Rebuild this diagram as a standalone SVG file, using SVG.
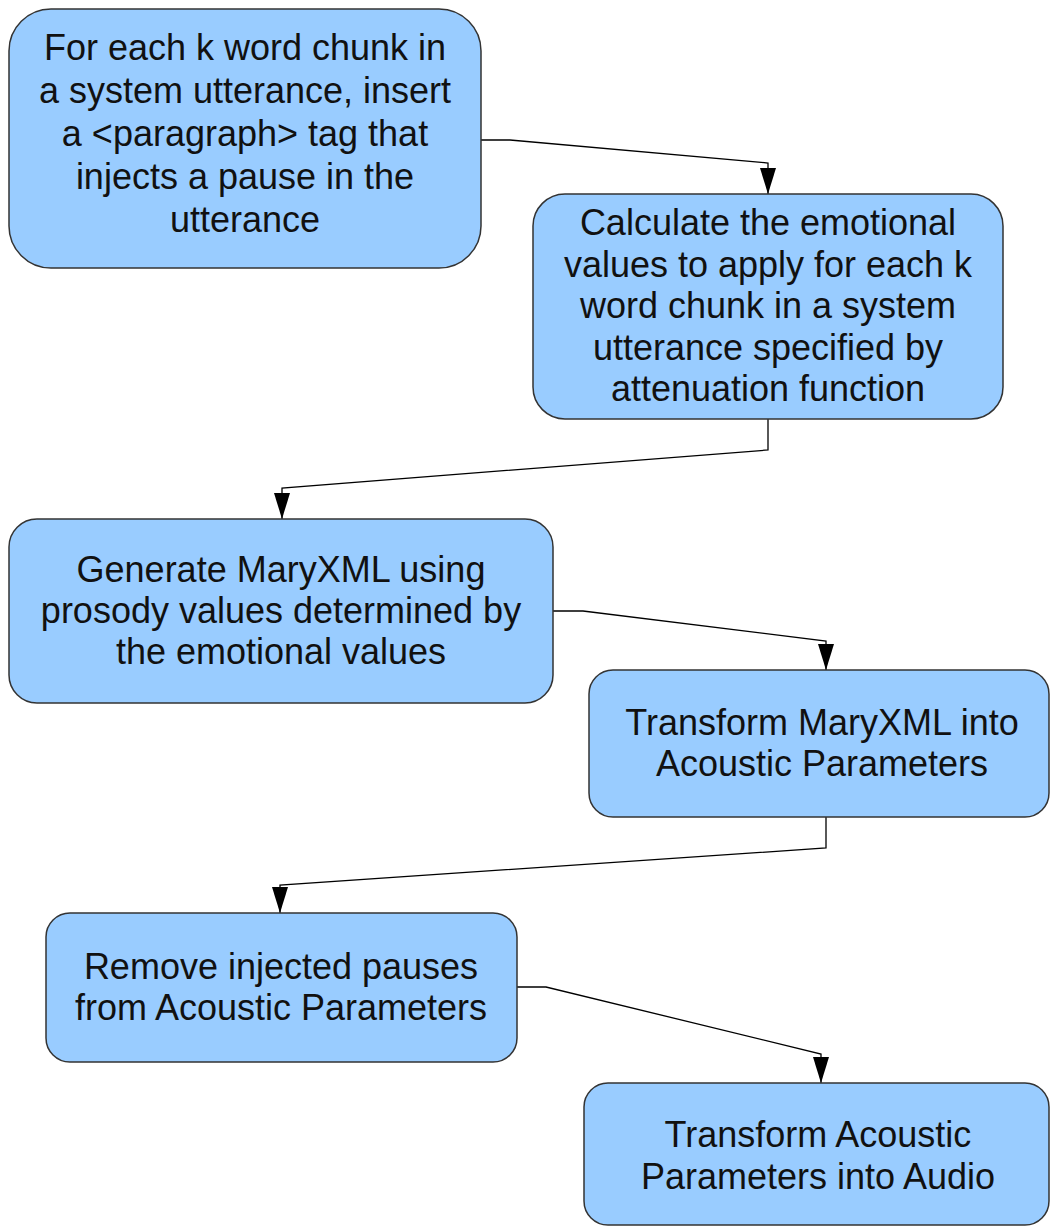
<svg xmlns="http://www.w3.org/2000/svg" width="1050" height="1226" viewBox="0 0 1050 1226">
<defs>
<style>
.box{fill:#99ccff;stroke:#333333;stroke-width:1.5}
.t{font-family:"Liberation Sans",Arial,sans-serif;font-size:36px;fill:#111111;text-anchor:middle}
.c{fill:none;stroke:#000000;stroke-width:1.3}
</style>
<marker id="arr" markerUnits="userSpaceOnUse" markerWidth="28" markerHeight="18" viewBox="0 0 28 18" refX="27" refY="9" orient="auto">
<path d="M1,1 L27,9 L1,17 Z" fill="#000000"/>
</marker>
</defs>
<rect width="1050" height="1226" fill="#ffffff"/>
<g id="connectors">
<path class="c" d="M481,140 L510,140 L768,163 L768,194" marker-end="url(#arr)"/>
<path class="c" d="M768,419 L768,450 L282,488 L282,519" marker-end="url(#arr)"/>
<path class="c" d="M553,611 L583,611 L826,641 L826,670" marker-end="url(#arr)"/>
<path class="c" d="M826,817 L826,848 L280,885 L280,913" marker-end="url(#arr)"/>
<path class="c" d="M517,987 L546,987 L821,1054 L821,1083" marker-end="url(#arr)"/>
</g>
<g id="node1">
<rect class="box" x="9" y="9" width="472" height="259" rx="42" ry="42"/>
<text class="t"><tspan x="245" y="60">For each k word chunk in</tspan><tspan x="245" y="103">a system utterance, insert</tspan><tspan x="245" y="146">a &lt;paragraph&gt; tag that</tspan><tspan x="245" y="189">injects a pause in the</tspan><tspan x="245" y="232">utterance</tspan></text>
</g>
<g id="node2">
<rect class="box" x="533" y="194" width="470" height="225" rx="32" ry="32"/>
<text class="t"><tspan x="768" y="235">Calculate the emotional</tspan><tspan x="768" y="277">values to apply for each k</tspan><tspan x="768" y="318">word chunk in a system</tspan><tspan x="768" y="360">utterance specified by</tspan><tspan x="768" y="401">attenuation function</tspan></text>
</g>
<g id="node3">
<rect class="box" x="9" y="519" width="544" height="184" rx="28" ry="28"/>
<text class="t"><tspan x="281" y="582">Generate MaryXML using</tspan><tspan x="281" y="623">prosody values determined by</tspan><tspan x="281" y="664">the emotional values</tspan></text>
</g>
<g id="node4">
<rect class="box" x="589" y="670" width="460" height="147" rx="24" ry="24"/>
<text class="t"><tspan x="822" y="735">Transform MaryXML into</tspan><tspan x="822" y="776">Acoustic Parameters</tspan></text>
</g>
<g id="node5">
<rect class="box" x="46" y="913" width="471" height="149" rx="24" ry="24"/>
<text class="t"><tspan x="281" y="979">Remove injected pauses</tspan><tspan x="281" y="1020">from Acoustic Parameters</tspan></text>
</g>
<g id="node6">
<rect class="box" x="584" y="1083" width="465" height="142" rx="24" ry="24"/>
<text class="t"><tspan x="818" y="1147">Transform Acoustic</tspan><tspan x="818" y="1189">Parameters into Audio</tspan></text>
</g>
</svg>
